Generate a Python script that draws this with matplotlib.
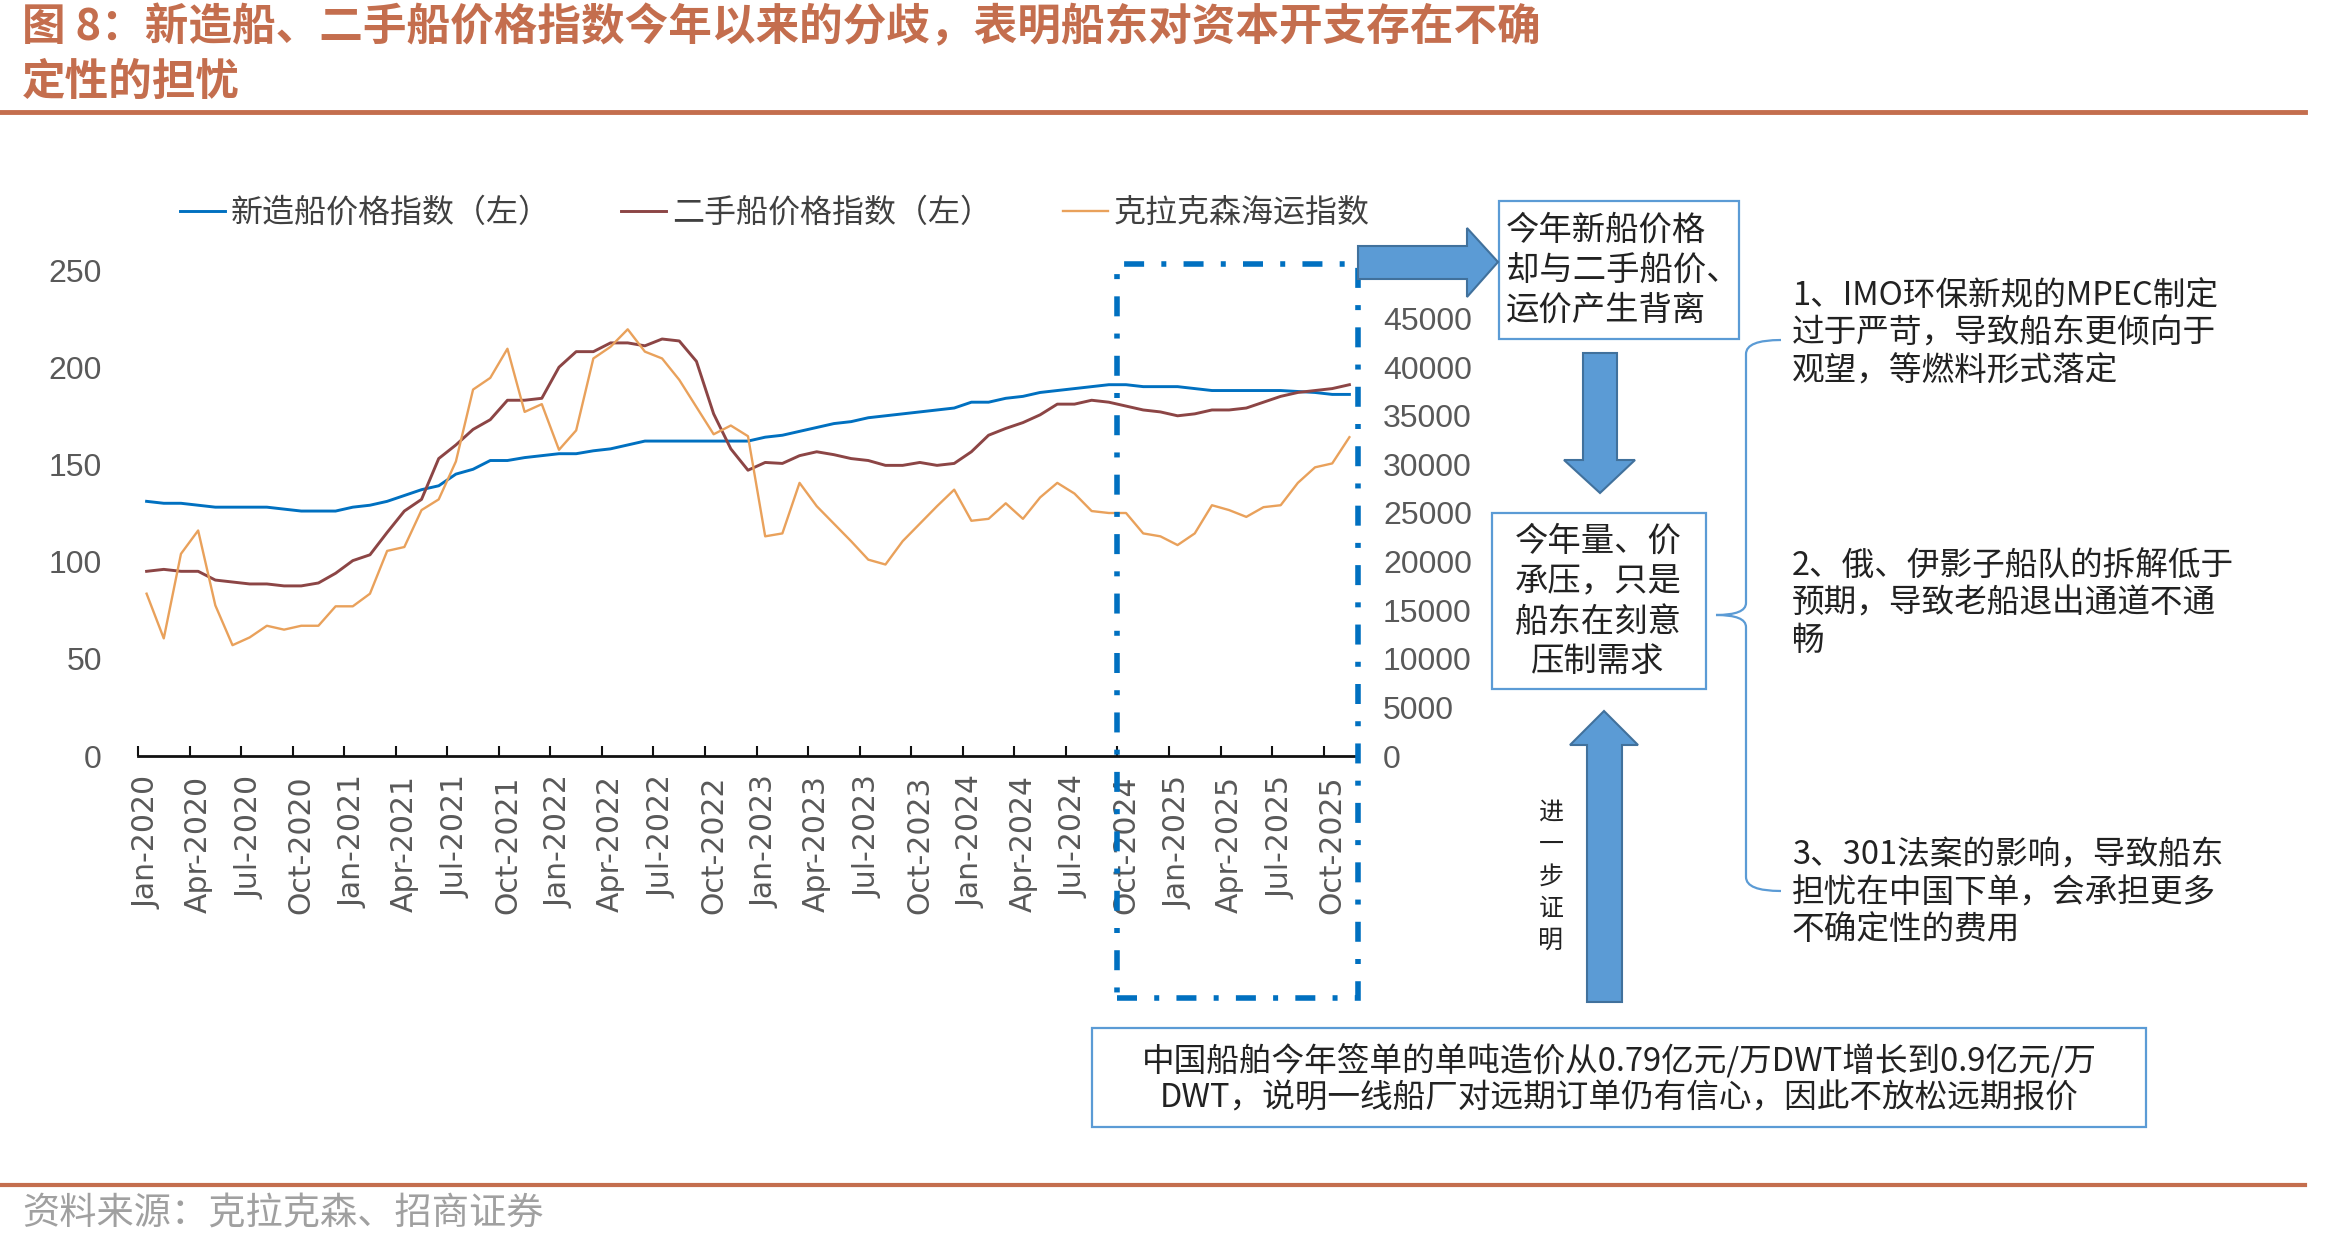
import numpy as np
import matplotlib
matplotlib.use("Agg")
from matplotlib import pyplot as plt
from matplotlib.patches import Rectangle, Polygon, PathPatch
from matplotlib.path import Path
from matplotlib.lines import Line2D
from matplotlib.transforms import blended_transform_factory

plt.rcParams['font.family'] = ['Noto Sans CJK SC', 'DejaVu Sans']

# 数据（月度，2020-01 ~ 2025-11）
newbuild = [131, 130, 130, 129, 128, 128, 128, 128, 127, 126, 126, 126, 128, 129, 131, 134, 137, 139,
            145, 147.5, 152, 152, 153.5, 154.5, 155.5, 155.5, 157, 158, 160, 162, 162, 162, 162, 162, 162, 162,
            164, 165, 167, 169, 171, 172, 174, 175, 176, 177, 178, 179, 182, 182, 184, 185, 187, 188,
            189, 190, 191, 191, 190, 190, 190, 189, 188, 188, 188, 188, 188, 187.5, 187, 186, 186]
secondhand = [95, 96, 95, 95, 90.5, 89.5, 88.5, 88.5, 87.5, 87.5, 89, 94, 100.5, 103.5, 115, 126, 132, 153,
              160, 168, 173, 183, 183, 184, 200, 208, 208, 212.5, 212.5, 211, 214.5, 213.5, 203, 176, 158, 147,
              151, 150.5, 154.5, 156.5, 155, 153, 152, 149.5, 149.5, 151, 149.5, 150.5, 156.5, 165, 168.5, 171.5, 175.5, 181,
              181, 183, 182, 180, 178, 177, 175, 176, 178, 178, 179, 182, 185, 187, 188, 189, 191]
clarksea = [16700, 12100, 20800, 23200, 15500, 11400, 12200, 13400, 13000, 13400, 13400, 15400, 15400, 16700, 21100, 21500, 25300, 26400,
            30300, 37700, 38900, 41900, 35400, 36200, 31500, 33500, 40900, 42100, 43900, 41600, 40900, 38700, 35900, 33100, 34000, 32900,
            22600, 22900, 28100, 25700, 23900, 22100, 20200, 19700, 22100, 23900, 25700, 27400, 24200, 24400, 26000, 24400, 26600, 28100,
            27000, 25200, 25000, 25000, 22900, 22600, 21700, 22900, 25800, 25300, 24600, 25600, 25800, 28100, 29700, 30100, 32800]

tick_labels = ['Jan-2020', 'Apr-2020', 'Jul-2020', 'Oct-2020',
               'Jan-2021', 'Apr-2021', 'Jul-2021', 'Oct-2021',
               'Jan-2022', 'Apr-2022', 'Jul-2022', 'Oct-2022',
               'Jan-2023', 'Apr-2023', 'Jul-2023', 'Oct-2023',
               'Jan-2024', 'Apr-2024', 'Jul-2024', 'Oct-2024',
               'Jan-2025', 'Apr-2025', 'Jul-2025', 'Oct-2025']

series_names = ['新造船价格指数（左）', '二手船价格指数（左）', '克拉克森海运指数']

W, H = 2351, 1246
fig = plt.figure(figsize=(W / 100, H / 100), dpi=100)


def P(x, y):
    return (x / W, 1 - y / H)


ax = fig.add_axes([138 / W, 1 - 756 / H, (1358 - 138) / W, (756 - 270) / H])
ax2 = ax.twinx()

x = np.arange(len(newbuild))
l1, = ax.plot(x, newbuild, color='#0070C0', lw=2.1)
l2, = ax.plot(x, secondhand, color='#8C4545', lw=2.1)
l3, = ax2.plot(x, clarksea, color='#E9A15B', lw=1.7)

ax.set_xlim(-0.5, len(newbuild) - 0.5)
ax.set_ylim(0, 250)
ax2.set_ylim(0, 50000)

for a in (ax, ax2):
    for s in a.spines.values():
        s.set_visible(False)
ax.spines['bottom'].set_visible(True)
ax.spines['bottom'].set_color('#111111')
ax.spines['bottom'].set_linewidth(2)

ax.set_yticks(np.arange(0, 251, 50))
ax.tick_params(axis='y', length=0, pad=26, labelsize=23, labelcolor='#595959')
# 50000 被箭头遮住
ax2.set_yticks(np.arange(0, 45001, 5000))
ax2.tick_params(axis='y', length=0, pad=18, labelsize=23, labelcolor='#595959')
for lab in ax.get_yticklabels() + ax2.get_yticklabels():
    lab.set_fontfamily('Liberation Sans')

ax.set_xticks(np.arange(-0.5, len(newbuild) - 1, 3))
ax.set_xticklabels([])
ax.tick_params(axis='x', which='major', direction='in', length=7, width=1.5, color='#111111')
ax.set_xticks(np.arange(0, 3 * len(tick_labels), 3), minor=True)
ax.set_xticklabels(tick_labels, minor=True, rotation=90, fontsize=21.5,
                   color='#595959', fontfamily='DejaVu Sans')
ax.tick_params(axis='x', which='minor', length=0, pad=14)

fig.legend([l1, l2, l3], series_names, loc='center left', bbox_to_anchor=P(180, 213),
           ncol=3, frameon=False, fontsize=23, handlelength=1.4, handletextpad=0.2,
           columnspacing=2.2, borderpad=0, borderaxespad=0, labelcolor='#404040')

# 点划线框
trans = blended_transform_factory(ax.transData, fig.transFigure)
y_top, y_bot = P(0, 264)[1], P(0, 998)[1]
box = Rectangle((56.5, y_bot), 14, y_top - y_bot, transform=trans, fill=False,
                edgecolor='#0070C0', lw=4, linestyle=(0, (3.6, 3.1, 0.9, 3.1)),
                clip_on=False, zorder=2)
fig.add_artist(box)

# 箭头
arrow_style = dict(facecolor='#5B9BD5', edgecolor='#41719C', lw=1.5,
                   transform=fig.transFigure, zorder=3)
right_arrow = [(1358, 246), (1467, 246), (1467, 228), (1498, 262), (1467, 297), (1467, 279), (1358, 279)]
down_arrow = [(1583, 353), (1617, 353), (1617, 460), (1635, 460), (1600, 493), (1564, 460), (1583, 460)]
up_arrow = [(1604, 711), (1638, 745), (1622, 745), (1622, 1002), (1587, 1002), (1587, 745), (1570, 745)]
for pts in (right_arrow, down_arrow, up_arrow):
    fig.add_artist(Polygon([P(*p) for p in pts], closed=True, **arrow_style))

# 文本框
box_style = dict(fill=False, edgecolor='#5B9BD5', lw=1.6, transform=fig.transFigure)
for (x0, y0, x1, y1) in [(1499, 201, 1739, 339), (1492, 513, 1706, 689), (1092, 1028, 2146, 1127)]:
    fig.add_artist(Rectangle(P(x0, y1), (x1 - x0) / W, (y1 - y0) / H, **box_style))

txt = '#222222'
fig.text(*P(1506, 270), '今年新船价格\n却与二手船价、\n运价产生背离', fontsize=24, color=txt,
         ha='left', va='center', linespacing=1.18)
fig.text(*P(1598, 602), '今年量、价\n承压，只是\n船东在刻意\n压制需求', fontsize=24, color=txt,
         ha='center', va='center', linespacing=1.2, multialignment='center')
fig.text(*P(1619, 1079), '中国船舶今年签单的单吨造价从0.79亿元/万DWT增长到0.9亿元/万\nDWT，说明一线船厂对远期订单仍有信心，因此不放松远期报价',
         fontsize=23.5, color=txt, ha='center', va='center', linespacing=1.2, multialignment='center')
fig.text(*P(1551, 877), '进\n一\n步\n证\n明', fontsize=18, color=txt, ha='center', va='center',
         linespacing=1.3)

notes = ['1、IMO环保新规的MPEC制定\n过于严苛，导致船东更倾向于\n观望，等燃料形式落定',
         '2、俄、伊影子船队的拆解低于\n预期，导致老船退出通道不通\n畅',
         '3、301法案的影响，导致船东\n担忧在中国下单，会承担更多\n不确定性的费用']
for note, yc in zip(notes, [334, 604, 893]):
    fig.text(*P(1792, yc), note, fontsize=23.5, color=txt, ha='left', va='center', linespacing=1.22)

# 大括号
bx, tip, top, mid, bot, rx = 1746, 1716, 340, 615, 891, 1781
verts = [P(rx, top), P(bx, top), P(bx, top + 14),
         P(bx, mid - 12), P(bx, mid), P(tip, mid),
         P(bx, mid), P(bx, mid + 12),
         P(bx, bot - 14), P(bx, bot), P(rx, bot)]
codes = [Path.MOVETO, Path.CURVE3, Path.CURVE3,
         Path.LINETO, Path.CURVE3, Path.CURVE3,
         Path.CURVE3, Path.CURVE3,
         Path.LINETO, Path.CURVE3, Path.CURVE3]
fig.add_artist(PathPatch(Path(verts, codes), fill=False, edgecolor='#5B9BD5', lw=1.6,
                         transform=fig.transFigure))

# 标题与来源
title_color = '#C46E4E'
fig.text(*P(22, 27), '图 8：新造船、二手船价格指数今年以来的分歧，表明船东对资本开支存在不确',
         fontsize=31.4, fontweight='bold', color=title_color, ha='left', va='center')
fig.text(*P(22, 82), '定性的担忧', fontsize=31.4, fontweight='bold', color=title_color,
         ha='left', va='center')
fig.add_artist(Line2D([0, 2305 / W], [P(0, 112)[1]] * 2, color=title_color, lw=3.5,
                      transform=fig.transFigure))
fig.add_artist(Line2D([0, 2305 / W], [P(0, 1185)[1]] * 2, color=title_color, lw=3,
                      transform=fig.transFigure))
fig.text(*P(22, 1213), '资料来源：克拉克森、招商证券', fontsize=26.8, color='#A0A0A0',
         ha='left', va='center')

fig.savefig('out.png', dpi=100)
